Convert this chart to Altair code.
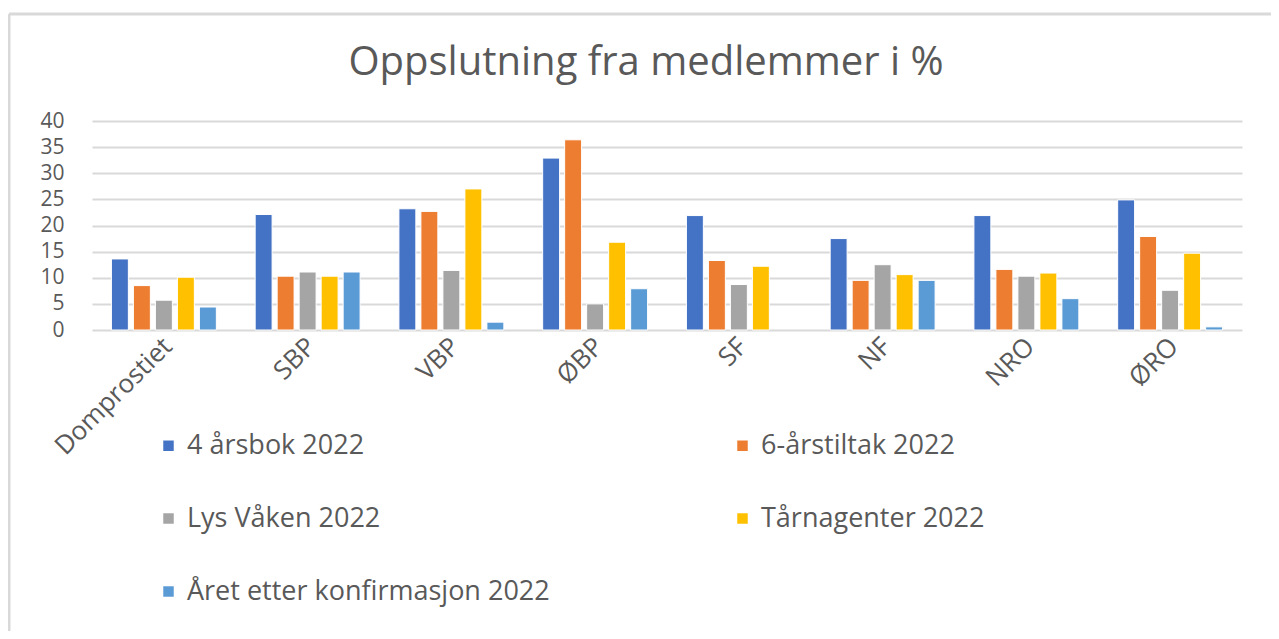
import altair as alt
import pandas as pd

categories = ["Domprostiet", "SBP", "VBP", "ØBP", "SF", "NF", "NRO", "ØRO"]
series = ["4 årsbok 2022", "6-årstiltak 2022", "Lys Våken 2022", "Tårnagenter 2022",
          "Året etter konfirmasjon 2022"]
colors = ["#4472C4", "#ED7D31", "#A5A5A5", "#FFC000", "#5B9BD5"]

v_4arsbok = [13.6, 22.1, 23.2, 32.9, 21.9, 17.5, 21.9, 24.9]
v_6ars = [8.5, 10.3, 22.7, 36.4, 13.3, 9.5, 11.6, 17.9]
v_lys = [5.7, 11.1, 11.4, 5.0, 8.7, 12.5, 10.3, 7.6]
v_taarn = [10.1, 10.3, 27.0, 16.8, 12.2, 10.6, 10.9, 14.7]
v_aaret = [4.4, 11.1, 1.5, 7.9, None, 9.5, 6.0, 0.6]

all_values = [v_4arsbok, v_6ars, v_lys, v_taarn, v_aaret]
rows = []
for s, vals in zip(series, all_values):
    for c, v in zip(categories, vals):
        if v is not None:
            rows.append({"Område": c, "Serie": s, "Verdi": v})
df = pd.DataFrame(rows)

FONT = "Open Sans"
GREY = "#595959"
W, H = 1150, 209

bars = alt.Chart(df).mark_bar(stroke="white", strokeWidth=1).encode(
    x=alt.X("Område:N", sort=categories, title=None,
            scale=alt.Scale(paddingInner=0.27, paddingOuter=0.135),
            axis=alt.Axis(labelAngle=315, labelAlign="right", labelBaseline="middle",
                          labelFontSize=26, labelColor=GREY, labelFont=FONT,
                          labelPadding=12, labelOffset=4,
                          ticks=False, domain=False, grid=False)),
    xOffset=alt.XOffset("Serie:N", sort=series,
                        scale=alt.Scale(paddingInner=0.23, paddingOuter=0)),
    y=alt.Y("Verdi:Q", title=None,
            scale=alt.Scale(domain=[0, 40], nice=False),
            axis=alt.Axis(values=[0, 5, 10, 15, 20, 25, 30, 35, 40],
                          labelFontSize=21, labelColor=GREY, labelFont=FONT,
                          labelPadding=28, ticks=False, domain=False,
                          grid=True, gridColor="#d9d9d9", gridWidth=2)),
    color=alt.Color("Serie:N", sort=series,
                    scale=alt.Scale(domain=series, range=colors),
                    legend=alt.Legend(title=None, orient="none", legendX=63, legendY=311,
                                      direction="horizontal", columns=2,
                                      columnPadding=179, rowPadding=45,
                                      symbolType="square", symbolSize=110,
                                      symbolStrokeWidth=0, labelOffset=5,
                                      labelFontSize=27, labelColor=GREY, labelFont=FONT,
                                      labelLimit=600)),
)

frame_df = pd.DataFrame({"a": [0]})
left_border = alt.Chart(frame_df).mark_rule(color="#d9d9d9", strokeWidth=3).encode(
    x=alt.value(-83), y=alt.value(-107), y2=alt.value(H + 301))
top_border = alt.Chart(frame_df).mark_rule(color="#d9d9d9", strokeWidth=3).encode(
    x=alt.value(-83), x2=alt.value(W + 29), y=alt.value(-107))

chart = alt.layer(bars, left_border, top_border).properties(
    width=W, height=H,
    title=alt.TitleParams("Oppslutning fra medlemmer i %", font=FONT, fontSize=40,
                          fontWeight="normal", color=GREY, anchor="middle",
                          offset=-70, dx=-21),
    autosize=alt.AutoSizeParams(type="none"),
    padding={"left": 84, "top": 113, "right": 29, "bottom": 301},
).configure_view(stroke=None)

chart.save("out.html", embed_options={"renderer": "svg", "actions": False})
